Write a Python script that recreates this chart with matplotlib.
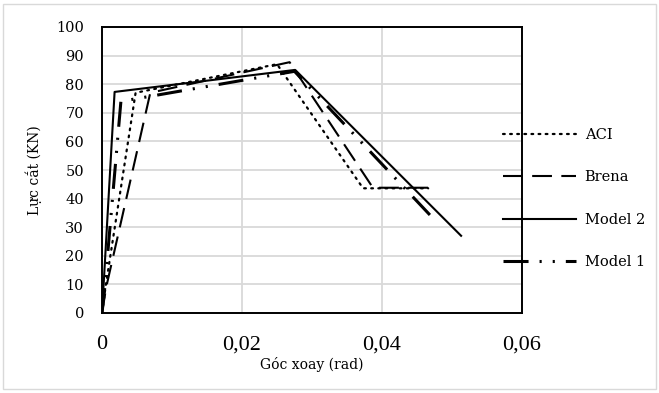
import matplotlib.pyplot as plt
from matplotlib.patches import Rectangle
from matplotlib.ticker import FuncFormatter

# ---- data ----
aci_x = [0, 0.0005, 0.0048, 0.0250, 0.0373, 0.0466]
aci_y = [0, 9, 77, 87, 43.6, 43.6]

brena_x = [0, 0.0006, 0.0069, 0.0268, 0.0387, 0.0469]
brena_y = [0, 9, 77, 87.7, 43.8, 43.8]

model2_x = [0, 0.0018, 0.0276, 0.0513]
model2_y = [0, 77.3, 85, 27]

model1_x = [0, 0.0004, 0.0027, 0.0275, 0.0478]
model1_y = [0, 9, 74, 84.5, 31.8]

x_ticks = [0, 0.02, 0.04, 0.06]
y_ticks = list(range(0, 101, 10))

# ---- figure ----
W, H = 659, 393
fig = plt.figure(figsize=(W / 100, H / 100), dpi=100)
ax = fig.add_axes([102 / W, 1 - 313 / H, 420 / W, 286 / H])

serif = "DejaVu Serif"

ax.plot(aci_x, aci_y, color="black", lw=1.6, linestyle=(0, (0.8, 2.4)),
        dash_capstyle="round", label="ACI")
ax.plot(brena_x, brena_y, color="black", lw=1.5, linestyle=(0, (9.5, 4.5)),
        label="Brena")
ax.plot(model2_x, model2_y, color="black", lw=1.5, linestyle="-",
        label="Model 2")
ax.plot(model1_x, model1_y, color="black", lw=2.2,
        linestyle=(0, (8.2, 3.6, 0.7, 3.6, 0.7, 3.6)), label="Model 1")

ax.set_xlim(0, 0.06)
ax.set_ylim(0, 100)
ax.set_xticks(x_ticks)
ax.set_yticks(y_ticks)
ax.xaxis.set_major_formatter(FuncFormatter(
    lambda v, p: "0" if v == 0 else f"{v:.2f}".replace(".", ",")))

ax.grid(True, color="#d9d9d9", lw=1.3)
ax.set_axisbelow(True)
for s in ax.spines.values():
    s.set_color("black")
    s.set_linewidth(1.4)

ax.tick_params(axis="both", length=0)
ax.tick_params(axis="y", pad=13, labelsize=10.5)
ax.tick_params(axis="x", pad=16, labelsize=16)
for lbl in ax.get_xticklabels():
    lbl.set_fontfamily("Liberation Serif")
for lbl in ax.get_yticklabels():
    lbl.set_fontfamily(serif)

ax.set_xlabel("Góc xoay (rad)", fontfamily=serif, fontsize=10, labelpad=2)
ax.set_ylabel("Lực cắt (KN)", fontfamily=serif, fontsize=10, labelpad=10)

leg = ax.legend(loc="upper left", bbox_to_anchor=(503 / W, 1 - 128 / H),
                bbox_transform=fig.transFigure, frameon=False,
                borderpad=0, borderaxespad=0, handlelength=5.0,
                handletextpad=0.6, labelspacing=1.95,
                prop={"family": serif, "size": 10.5})

# chart area border
fig.patches.append(Rectangle((3 / W, 4 / H), 653 / W, 385 / H,
                             transform=fig.transFigure, fill=False,
                             edgecolor="#d9d9d9", lw=1))

fig.savefig("out.png", dpi=100)
